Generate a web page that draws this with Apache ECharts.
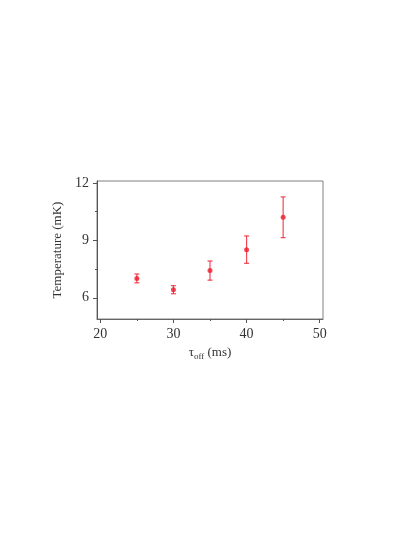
<!DOCTYPE html>
<html>
<head>
<meta charset="utf-8">
<script src="https://cdn.jsdelivr.net/npm/echarts@6/dist/echarts.min.js"></script>
<style>
  html, body { margin: 0; padding: 0; background: #fff; }
  #main { width: 415px; height: 537px; }
</style>
</head>
<body>
<div id="main"></div>
<script>
// data
var tauOff = [25, 30, 35, 40, 45];
var temperature = [7.0, 6.42, 7.42, 8.51, 10.2];
var errLow = [6.78, 6.21, 6.92, 7.8, 9.14];
var errHigh = [7.24, 6.63, 7.92, 9.23, 11.27];
var xTicks = [20, 30, 40, 50];
var yTicks = [6, 9, 12];

var FONT = '"Liberation Serif", "DejaVu Serif", serif';
var RED = '#ec1c2a';

var points = tauOff.map(function (x, i) { return [x, temperature[i]]; });
var bars = tauOff.map(function (x, i) { return [x, errLow[i], errHigh[i]]; });

var chart = echarts.init(document.getElementById('main'), null, { renderer: 'canvas' });

chart.setOption({
  backgroundColor: '#fff',
  animation: false,
  grid: {
    left: 97, right: 92, top: 181, bottom: 218,
    show: true, borderColor: '#808080', borderWidth: 1
  },
  xAxis: {
    type: 'value',
    min: 19.55, max: 50.45,
    splitNumber: 3,
    name: '{t|τ}{s|off}{t| (ms)}',
    nameLocation: 'middle',
    nameGap: 26,
    nameTextStyle: {
      rich: {
        t: { fontFamily: FONT, fontSize: 13, color: '#333' },
        s: { fontFamily: FONT, fontSize: 9, color: '#333', padding: [7, 0, 0, 0] }
      }
    },
    axisLine: { onZero: false, lineStyle: { color: '#666', width: 1 } },
    axisTick: { inside: false, length: 4, customValues: xTicks, lineStyle: { color: '#555' } },
    minorTick: { show: true, splitNumber: 2, length: 2, lineStyle: { color: '#555' } },
    axisLabel: { customValues: xTicks, margin: 8, fontFamily: FONT, fontSize: 14, color: '#333' },
    splitLine: { show: false }
  },
  yAxis: {
    type: 'value',
    min: 4.89, max: 12.1,
    splitNumber: 2,
    name: 'Temperature (mK)',
    nameLocation: 'middle',
    nameGap: 25,
    nameTextStyle: { fontFamily: FONT, fontSize: 13, color: '#333' },
    axisLine: { onZero: false, lineStyle: { color: '#555', width: 1 } },
    axisTick: { inside: false, length: 4, customValues: yTicks, lineStyle: { color: '#555' } },
    minorTick: { show: true, splitNumber: 2, length: 2, lineStyle: { color: '#555' } },
    axisLabel: { customValues: yTicks, margin: 8, fontFamily: FONT, fontSize: 14, color: '#333' },
    splitLine: { show: false }
  },
  series: [
    {
      type: 'custom',
      data: bars,
      encode: { x: 0, y: [1, 2] },
      renderItem: function (params, api) {
        var top = api.coord([api.value(0), api.value(2)]);
        var bot = api.coord([api.value(0), api.value(1)]);
        var w = 2.5;
        var st = { stroke: RED, lineWidth: 1.2, opacity: 0.8 };
        return {
          type: 'group',
          children: [
            { type: 'line', shape: { x1: top[0], y1: top[1], x2: bot[0], y2: bot[1] }, style: st },
            { type: 'line', shape: { x1: top[0] - w, y1: top[1], x2: top[0] + w, y2: top[1] }, style: st },
            { type: 'line', shape: { x1: bot[0] - w, y1: bot[1], x2: bot[0] + w, y2: bot[1] }, style: st }
          ]
        };
      }
    },
    {
      type: 'scatter',
      data: points,
      symbol: 'circle',
      symbolSize: 5,
      itemStyle: { color: RED }
    }
  ]
});
</script>
</body>
</html>
